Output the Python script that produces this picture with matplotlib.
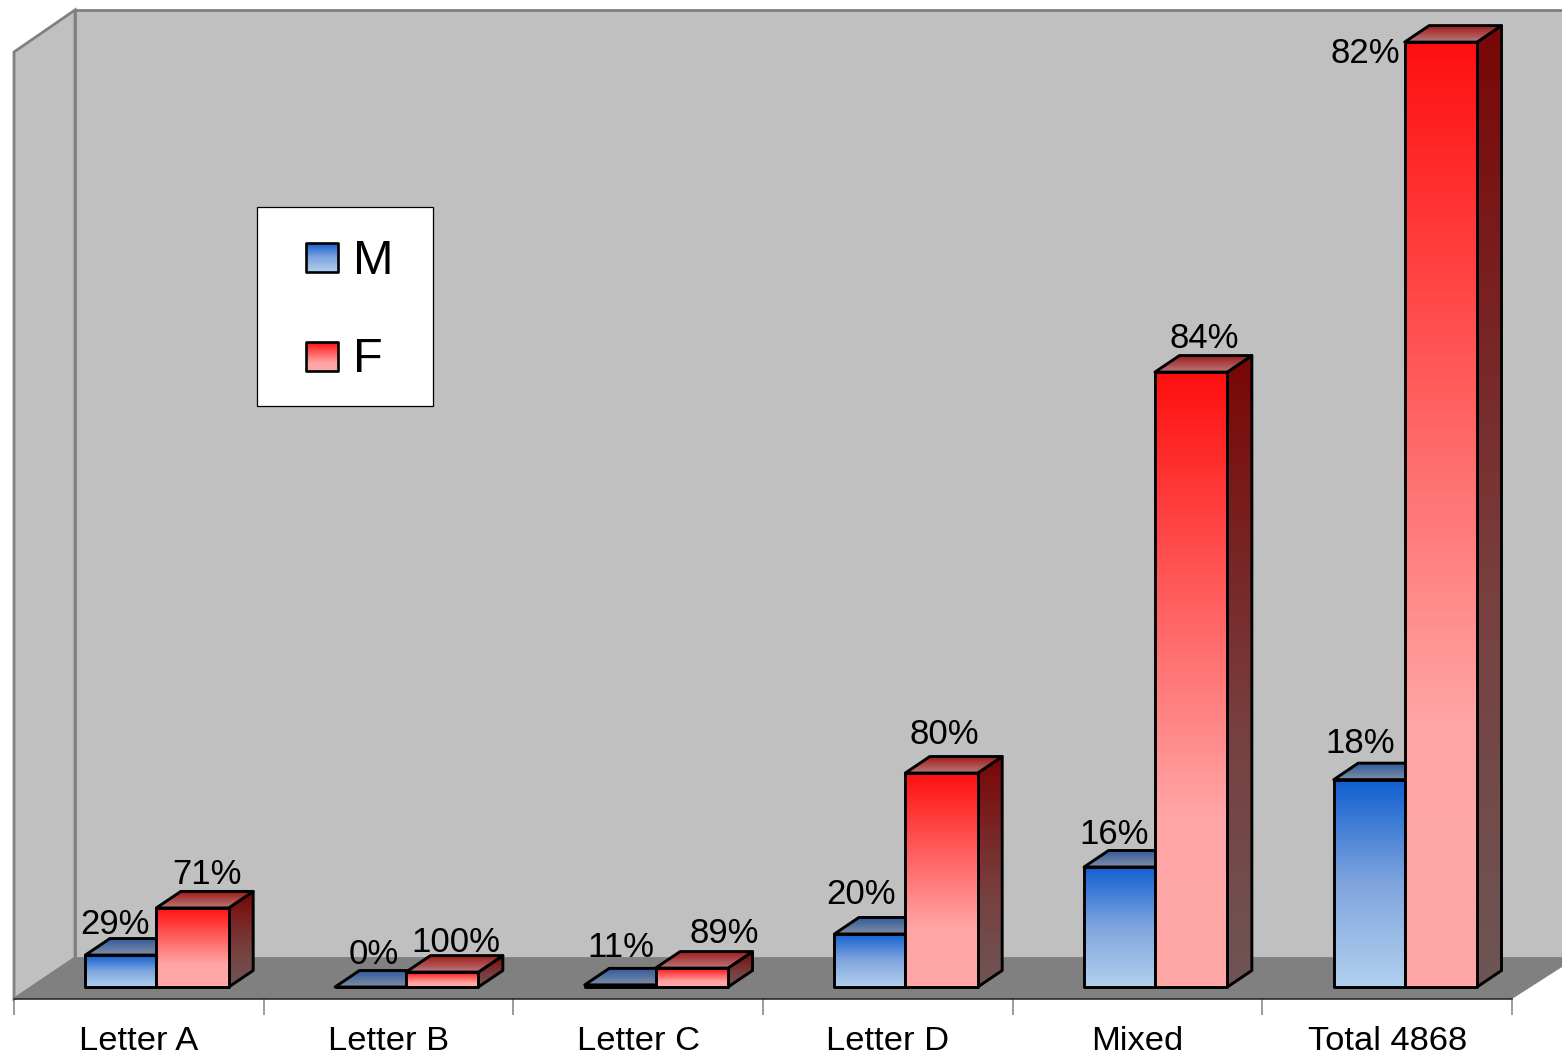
import numpy as np
import matplotlib
matplotlib.use('Agg')
import matplotlib.pyplot as plt
from matplotlib.colors import LinearSegmentedColormap
from matplotlib.patches import Polygon, Rectangle

plt.rcParams['font.family'] = ['Liberation Sans', 'DejaVu Sans']

categories = ['Letter A', 'Letter B', 'Letter C', 'Letter D', 'Mixed', 'Total 4868']
male = [135, 0, 9, 224, 507, 876]
female = [334, 63, 80, 904, 2598, 3992]
male_pct = ['29%', '0%', '11%', '20%', '16%', '18%']
female_pct = ['71%', '100%', '89%', '80%', '84%', '82%']

# label offsets from the top of each bar, in pixels
male_off = [(-5, 31), (4, 32), (1, 37), (-8, 39), (-5, 32), (-8, 36)]
female_off = [(14, 33), (14, 30), (32, 35), (3, 39), (13, 34), (-76, -11)]

W, H = 1562, 1056
px_per_count = 0.2367
male_w = 0.284
female_w = 0.29
bar_shift = 0.07
depth_x = 0.098
depth_y = 16.5 / px_per_count


def cmap(*stops):
    return LinearSegmentedColormap.from_list('g', list(stops))


m_front = cmap((0, '#0f5fd0'), (0.5, '#80a5de'), (1, '#b2d0ee'))
m_top = cmap((0, '#2f5a9c'), (1, '#7f8ea6'))
m_side = cmap((0, '#0a3a80'), (1, '#55606e'))
f_front = cmap((0, '#ff0f0f'), (0.35, '#ff5a5a'), (0.72, '#ffa5a5'), (1, '#ffa8a8'))
f_top = cmap((0, '#a01818'), (1, '#b87878'))
f_side = cmap((0, '#7a0606'), (0.6, '#784040'), (1, '#6e5555'))


def face(ax, verts, colors, z, lw=2.1, flip=False):
    verts = np.array(verts, dtype=float)
    x0, y0 = verts.min(axis=0)
    x1, y1 = verts.max(axis=0)
    poly = Polygon(verts, closed=True, fill=False, edgecolor='black', lw=lw,
                   joinstyle='round', clip_on=False, zorder=z + 0.5)
    ax.add_patch(poly)
    if y1 > y0 and x1 > x0:
        extent = [x0, x1, y1, y0] if flip else [x0, x1, y0, y1]
        im = ax.imshow(np.linspace(0, 1, 256).reshape(-1, 1), cmap=colors,
                       extent=extent, origin='upper', aspect='auto',
                       interpolation='bilinear', zorder=z)
        im.set_clip_path(poly)


def bar3d(ax, l, r, v, front, top, side, z):
    dx, dy = depth_x, depth_y
    face(ax, [(r, 0), (r + dx, dy), (r + dx, v + dy), (r, v)], side, z)
    face(ax, [(l, v), (r, v), (r + dx, v + dy), (l + dx, v + dy)], top, z + 1)
    face(ax, [(l, 0), (r, 0), (r, v), (l, v)], front, z + 2)


fig = plt.figure(figsize=(W / 100, H / 100), dpi=100, facecolor='white')

# walls, floor and legend are drawn in picture pixels
bg = fig.add_axes([0, 0, 1, 1])
bg.set_xlim(0, W)
bg.set_ylim(H, 0)
bg.axis('off')
wall = '#c0c0c0'
edge = '#808080'
bg.add_patch(Polygon([(75, 10), (W + 5, 10), (W + 5, 958), (75, 958)], fc=wall, ec=edge, lw=2))
bg.add_patch(Polygon([(14, 52), (75, 10), (75, 958), (14, 999)], fc=wall, ec=edge, lw=2))
bg.add_patch(Polygon([(14, 999), (75, 958), (W, 958), (W, 967), (1512, 999)], fc=edge, ec='none'))

bg.add_patch(Rectangle((257, 207), 176, 199, fc='white', ec='black', lw=0.9))
face(bg, [(306, 243), (338, 243), (338, 272), (306, 272)], m_front, 3, lw=1.9, flip=True)
face(bg, [(306, 342), (338, 342), (338, 371), (306, 371)], f_front, 3, lw=1.9, flip=True)
bg.text(353, 261, 'M', fontsize=35, ha='left', va='center', color='black')
bg.text(353, 359, 'F', fontsize=35, ha='left', va='center', color='black')
bg.set_xlim(0, W)
bg.set_ylim(H, 0)

# bars live on a real value axis whose bottom edge is the floor's front line
ax = fig.add_axes([14 / W, (H - 999) / H, 1498 / W, 999 / H])
ax.patch.set_visible(False)
pos = np.arange(len(categories))
for i in pos:
    mid = i + bar_shift
    bar3d(ax, mid - male_w, mid, male[i], m_front, m_top, m_side, 3)
    bar3d(ax, mid, mid + female_w, female[i], f_front, f_top, f_side, 7)
    ax.annotate(male_pct[i], (mid - 0.145, male[i]), xytext=male_off[i], textcoords='offset pixels',
                ha='center', va='center', fontsize=25, color='black', zorder=12)
    ax.annotate(female_pct[i], (mid + 0.145, female[i]), xytext=female_off[i], textcoords='offset pixels',
                ha='center', va='center', fontsize=25, color='black', zorder=12)

ax.set_xlim(-0.5, len(categories) - 0.5)
ax.set_ylim(-12 / px_per_count, 987 / px_per_count)
ax.set_yticks([])
ax.set_xticks(pos, categories, fontsize=24.8)
ax.set_xticks(np.arange(len(categories) + 1) - 0.5, minor=True)
ax.tick_params(axis='x', which='major', length=0, pad=19.5)
ax.tick_params(axis='x', which='minor', length=11.5, width=1.1, color=edge)
for s in ['left', 'right', 'top']:
    ax.spines[s].set_visible(False)
ax.spines['bottom'].set_color('#202020')
ax.spines['bottom'].set_linewidth(1.1)

fig.savefig('out.png', dpi=100)
